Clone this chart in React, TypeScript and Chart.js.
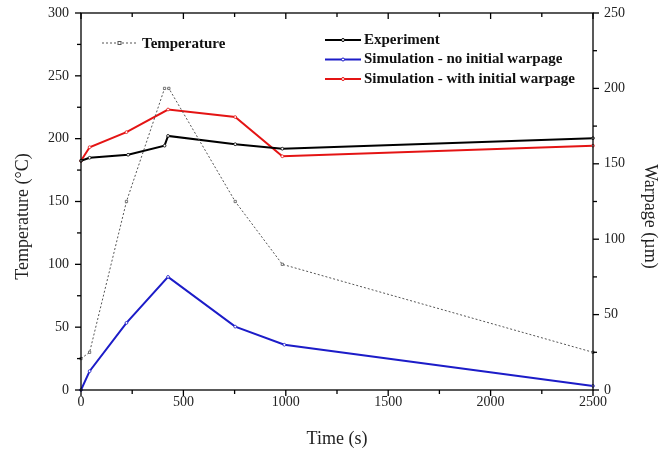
import React, { useEffect, useRef } from "react";
import { Chart, registerables } from "chart.js";
Chart.register(...registerables);

const timeTemp = [0, 42, 222, 408, 429, 753, 983, 2500];
const temperature = [25, 30, 150, 240, 240, 150, 100, 30];

const timeExp = [0, 42, 230, 408, 425, 753, 983, 2500];
const experiment = [152, 154, 156, 162, 168.5, 163, 160, 167];

const timeSimNo = [0, 42, 222, 425, 753, 993, 2500];
const simNoInitial = [0, 12.5, 44.5, 75, 42, 30, 2.7];

const timeSimWith = [0, 42, 222, 425, 753, 983, 2500];
const simWithInitial = [152, 161, 171, 186, 181, 155, 162];

const xTicks = [0, 500, 1000, 1500, 2000, 2500];
const tempTicks = [0, 50, 100, 150, 200, 250, 300];
const warpTicks = [0, 50, 100, 150, 200, 250];

const leftTitle = "Temperature (°C)";
const rightTitle = "Warpage (µm)";

const SERIF = "'Liberation Serif', 'DejaVu Serif', serif";

const pts = (xs: number[], ys: number[]) => xs.map((x, i) => ({ x, y: ys[i] }));

const framePlugin = {
  id: "frame",
  afterDraw(chart: any) {
    const { ctx, chartArea: a, scales } = chart;
    ctx.save();
    ctx.strokeStyle = "#000";
    ctx.lineWidth = 1.3;
    ctx.strokeRect(a.left, a.top, a.right - a.left, a.bottom - a.top);
    const line = (x1: number, y1: number, x2: number, y2: number) => {
      ctx.beginPath();
      ctx.moveTo(x1, y1);
      ctx.lineTo(x2, y2);
      ctx.stroke();
    };
    for (let v = 0; v <= 2500; v += 250) {
      const x = scales.x.getPixelForValue(v);
      const L = v % 500 === 0 ? 6 : 4;
      line(x, a.bottom, x, a.bottom + L);
      line(x, a.top, x, a.top + L);
    }
    for (let v = 0; v <= 300; v += 25) {
      const y = scales.y.getPixelForValue(v);
      const L = v % 50 === 0 ? 6 : 4;
      line(a.left - L, y, a.left, y);
    }
    for (let v = 0; v <= 250; v += 25) {
      const y = scales.y1.getPixelForValue(v);
      const L = v % 50 === 0 ? 6 : 4;
      line(a.right, y, a.right + L, y);
    }

    // axis titles (vertical)
    const midY = (a.top + a.bottom) / 2 + 15;
    ctx.font = `18px ${SERIF}`;
    ctx.fillStyle = "#222";
    ctx.textAlign = "center";
    ctx.textBaseline = "middle";
    ctx.save();
    ctx.translate(23, midY);
    ctx.rotate(-Math.PI / 2);
    ctx.fillText(leftTitle, 0, 0);
    ctx.restore();
    ctx.save();
    ctx.translate(a.right + 57, midY);
    ctx.rotate(Math.PI / 2);
    ctx.fillText(rightTitle, 0, 0);
    ctx.restore();

    // legends
    const ds = chart.data.datasets;
    ctx.textAlign = "left";
    ctx.font = `bold 15px ${SERIF}`;
    ctx.fillStyle = "#111";
    const tx = a.left + 21;
    const ty = a.top + 30;
    ctx.strokeStyle = ds[0].borderColor;
    ctx.lineWidth = 1;
    ctx.setLineDash([2, 2]);
    line(tx, ty, tx + 36, ty);
    ctx.setLineDash([]);
    ctx.fillStyle = "#fff";
    ctx.fillRect(tx + 16, ty - 1.5, 3, 3);
    ctx.strokeRect(tx + 16, ty - 1.5, 3, 3);
    ctx.fillStyle = "#111";
    ctx.fillText(ds[0].label, tx + 40, ty + 1);

    const lx = a.left + 244;
    let ly = a.top + 27;
    for (let i = 1; i < 4; i++) {
      ctx.strokeStyle = ds[i].borderColor;
      ctx.lineWidth = 2;
      line(lx, ly, lx + 36, ly);
      ctx.lineWidth = 1;
      ctx.beginPath();
      ctx.fillStyle = "#fff";
      ctx.arc(lx + 18, ly, 1.5, 0, Math.PI * 2);
      ctx.fill();
      ctx.stroke();
      ctx.fillStyle = "#111";
      ctx.fillText(ds[i].label, lx + 39, ly);
      ly += 19.5;
    }
    ctx.restore();
  },
};

export default function App() {
  const ref = useRef<HTMLCanvasElement>(null);
  useEffect(() => {
    document.body.style.margin = "0";
    const tickFont = { family: SERIF, size: 14 };
    const titleFont = { family: SERIF, size: 18 };
    const noPad = (s: any) => {
      s.paddingTop = 0;
      s.paddingBottom = 0;
      s.paddingLeft = 0;
      s.paddingRight = 0;
    };
    const chart = new Chart(ref.current!, {
      type: "line",
      data: {
        datasets: [
          {
            label: "Temperature",
            data: pts(timeTemp, temperature),
            yAxisID: "y",
            borderColor: "#555",
            borderWidth: 1,
            borderDash: [2, 2],
            pointStyle: "rect",
            pointRadius: 1.6,
            pointBackgroundColor: "#fff",
            pointBorderColor: "#555",
            pointBorderWidth: 0.8,
          },
          {
            label: "Experiment",
            data: pts(timeExp, experiment),
            yAxisID: "y1",
            borderColor: "#000",
            borderWidth: 2,
            pointRadius: 1.4,
            pointBackgroundColor: "#fff",
            pointBorderColor: "#000",
            pointBorderWidth: 0.8,
          },
          {
            label: "Simulation - no initial warpage",
            data: pts(timeSimNo, simNoInitial),
            yAxisID: "y1",
            borderColor: "#1c1cc8",
            borderWidth: 2,
            pointRadius: 1.4,
            pointBackgroundColor: "#fff",
            pointBorderColor: "#1c1cc8",
            pointBorderWidth: 0.8,
          },
          {
            label: "Simulation - with initial warpage",
            data: pts(timeSimWith, simWithInitial),
            yAxisID: "y1",
            borderColor: "#e41414",
            borderWidth: 2,
            pointRadius: 1.4,
            pointBackgroundColor: "#fff",
            pointBorderColor: "#e41414",
            pointBorderWidth: 0.8,
          },
        ],
      },
      options: {
        animation: false,
        responsive: false,
        maintainAspectRatio: false,
        clip: false as any,
        layout: { padding: { top: 13, left: 0, right: 0, bottom: 0 } },
        plugins: { legend: { display: false }, tooltip: { enabled: false } },
        scales: {
          x: {
            type: "linear",
            position: "bottom",
            min: 0,
            max: 2500,
            afterBuildTicks: (s: any) => {
              s.ticks = xTicks.map((v) => ({ value: v }));
            },
            grid: { display: false, drawTicks: false },
            border: { display: false },
            ticks: { font: tickFont, color: "#222", padding: 4, maxRotation: 0, callback: (v: any) => String(v) },
            title: { display: true, text: "Time (s)", font: titleFont, color: "#222", padding: { top: 0, bottom: 1 } },
            afterFit: (s: any) => {
              s.height = 61;
              noPad(s);
            },
          },
          y: {
            type: "linear",
            position: "left",
            min: 0,
            max: 300,
            afterBuildTicks: (s: any) => {
              s.ticks = tempTicks.map((v) => ({ value: v }));
            },
            grid: { display: false, drawTicks: false },
            border: { display: false },
            ticks: { font: tickFont, color: "#222", padding: 12, callback: (v: any) => String(v) },
            afterFit: (s: any) => {
              s.width = 81;
              noPad(s);
            },
          },
          y1: {
            type: "linear",
            position: "right",
            min: 0,
            max: 250,
            afterBuildTicks: (s: any) => {
              s.ticks = warpTicks.map((v) => ({ value: v }));
            },
            grid: { display: false, drawTicks: false },
            border: { display: false },
            ticks: { font: tickFont, color: "#222", padding: 11, callback: (v: any) => String(v) },
            afterFit: (s: any) => {
              s.width = 79;
              noPad(s);
            },
          },
        },
      },
      plugins: [framePlugin],
    });
    return () => chart.destroy();
  }, []);
  return (
    <div style={{ width: 672, height: 451 }}>
      <canvas ref={ref} width={672} height={451} style={{ display: "block" }} />
    </div>
  );
}
